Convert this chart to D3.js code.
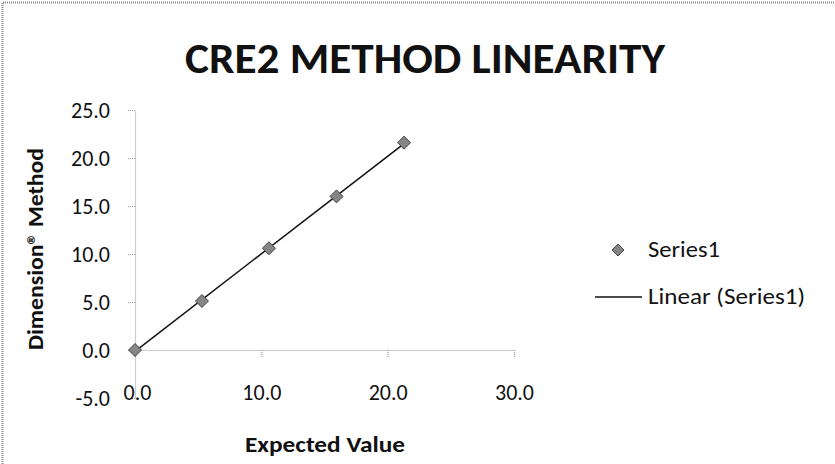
<!DOCTYPE html>
<html>
<head>
<meta charset="utf-8">
<script src="https://cdn.jsdelivr.net/npm/d3@7/dist/d3.min.js"></script>
<style>
  body { margin: 0; background: #fff; }
  text { font-family: Carlito, Calibri, Lato, sans-serif; fill: #111; }
</style>
</head>
<body>
<svg id="chart"></svg>
<script>
// values
var expected = [0.0, 5.3, 10.6, 15.95, 21.3];
var measured = [0.0, 5.1, 10.6, 16.0, 21.6];
var yTicks = [-5, 0, 5, 10, 15, 20, 25];
var xTicks = [0, 10, 20, 30];
var seriesName = "Series1";

var width = 835, height = 464;

var svg = d3.select("#chart")
  .attr("width", width)
  .attr("height", height);

svg.append("rect").attr("width", width).attr("height", height).attr("fill", "#fff");

// scan frame, left and top edges only
svg.append("path")
  .attr("d", "M2.5," + height + "V2.5H" + width)
  .attr("fill", "none")
  .attr("stroke", "#888")
  .attr("stroke-width", 2)
  .attr("stroke-dasharray", "1,1");

var x = d3.scaleLinear().domain([0, 30]).range([135, 514]);
var y = d3.scaleLinear().domain([-5, 25]).range([398, 110]);

// excel style: plain hyphen for negatives
var fmt = function(v){ return v.toFixed(1); };

// title
svg.append("text")
  .attr("x", 185).attr("y", 73)
  .attr("textLength", 480)
  .attr("lengthAdjust", "spacingAndGlyphs")
  .style("font-size", "42px")
  .style("font-weight", "bold")
  .text("CRE2 METHOD LINEARITY");

// y axis
var yAxis = svg.append("g")
  .attr("transform", "translate(" + x(0) + ",0)")
  .call(d3.axisLeft(y).tickValues(yTicks).tickFormat(fmt).tickSize(7).tickSizeOuter(0).tickPadding(18));

// x axis sits on y = 0
var xAxis = svg.append("g")
  .attr("transform", "translate(0," + y(0) + ")")
  .call(d3.axisBottom(x).tickValues(xTicks).tickFormat(fmt).tickSize(7).tickSizeOuter(0).tickPadding(27));

[yAxis, xAxis].forEach(function(g){
  g.select(".domain").attr("stroke", "#999").attr("stroke-dasharray", "1,1").attr("stroke-width", 1.2);
  g.selectAll(".tick line").attr("stroke", "#999").attr("stroke-dasharray", "1,1").attr("stroke-width", 1.2);
  g.selectAll(".tick text")
    .style("font-family", "Carlito, Calibri, Lato, sans-serif")
    .style("font-size", "22px")
    .attr("fill", "#111");
});
xAxis.selectAll(".tick text").filter(function(d){ return d === 0; }).attr("dx", 2);

// axis titles
svg.append("text")
  .attr("transform", "translate(43,249) rotate(-90)")
  .attr("text-anchor", "middle")
  .attr("textLength", 202)
  .attr("lengthAdjust", "spacingAndGlyphs")
  .style("font-size", "22px")
  .style("font-weight", "bold")
  .text("Dimension\u00ae Method");

svg.append("text")
  .attr("x", 325).attr("y", 452)
  .attr("text-anchor", "middle")
  .attr("textLength", 160)
  .attr("lengthAdjust", "spacingAndGlyphs")
  .style("font-size", "22px")
  .style("font-weight", "bold")
  .text("Expected Value");

// linear trendline (least squares)
var mx = d3.mean(expected), my = d3.mean(measured);
var sxy = d3.sum(expected, function(v, i){ return (v - mx) * (measured[i] - my); });
var sxx = d3.sum(expected, function(v){ return (v - mx) * (v - mx); });
var slope = sxy / sxx, icpt = my - slope * mx;
var ext = d3.extent(expected);

svg.append("line")
  .attr("x1", x(ext[0])).attr("y1", y(icpt + slope * ext[0]))
  .attr("x2", x(ext[1])).attr("y2", y(icpt + slope * ext[1]))
  .attr("stroke", "#111")
  .attr("stroke-width", 1.5);

// markers
var diamond = function(r){ return "M0," + (-r) + "L" + r + ",0L0," + r + "L" + (-r) + ",0Z"; };

svg.selectAll(".pt")
  .data(expected.map(function(v, i){ return [v, measured[i]]; }))
  .enter().append("path")
  .attr("class", "pt")
  .attr("transform", function(d){ return "translate(" + x(d[0]) + "," + y(d[1]) + ")"; })
  .attr("d", diamond(6.5))
  .attr("fill", "#858585")
  .attr("stroke", "#444")
  .attr("stroke-width", 1);

// legend
var legend = svg.append("g");
legend.append("path")
  .attr("transform", "translate(618,250)")
  .attr("d", diamond(6))
  .attr("fill", "#858585")
  .attr("stroke", "#444");
legend.append("text")
  .attr("x", 648).attr("y", 257)
  .attr("textLength", 72)
  .attr("lengthAdjust", "spacingAndGlyphs")
  .style("font-size", "22px")
  .text(seriesName);
legend.append("line")
  .attr("x1", 595).attr("x2", 642)
  .attr("y1", 297).attr("y2", 297)
  .attr("stroke", "#111").attr("stroke-width", 1.5);
legend.append("text")
  .attr("x", 648).attr("y", 304)
  .attr("textLength", 157)
  .attr("lengthAdjust", "spacingAndGlyphs")
  .style("font-size", "22px")
  .text("Linear (" + seriesName + ")");
</script>
</body>
</html>
